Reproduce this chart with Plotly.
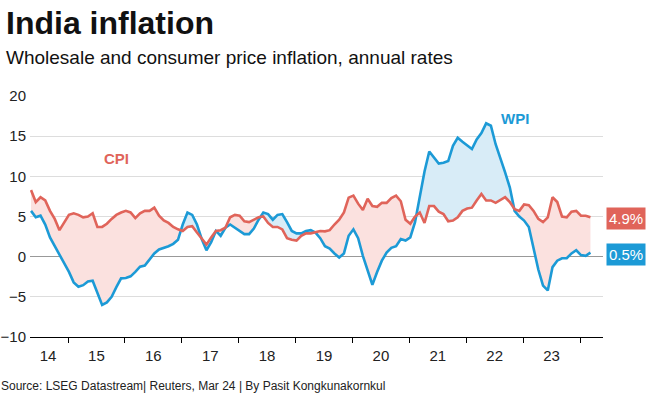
import plotly.graph_objects as go

# ---- data (monthly, May 2014 – Mar 2024) ----
start_year, start_month = 2014, 5

cpi = [
    8.3, 6.8, 7.4, 7.0, 5.7, 4.7, 3.3, 4.3,                         # 2014 May-Dec
    5.2, 5.4, 5.2, 4.9, 5.0, 5.4, 3.7, 3.7, 4.1, 4.7, 5.2, 5.5,     # 2015
    5.7, 5.5, 4.8, 5.4, 5.7, 5.7, 6.1, 5.1, 4.5, 4.2, 3.7, 3.4,     # 2016
    3.2, 3.7, 3.8, 3.0, 2.2, 1.5, 2.4, 3.2, 3.3, 3.6, 4.9, 5.2,     # 2017
    5.1, 4.4, 4.3, 4.6, 4.9, 5.0, 4.2, 3.7, 3.7, 3.4, 2.3, 2.1,     # 2018
    2.0, 2.6, 2.9, 2.9, 3.05, 3.2, 3.15, 3.3, 4.0, 4.6, 5.5, 7.35,  # 2019
    7.6, 6.6, 5.8, 7.2, 6.3, 6.2, 6.7, 6.7, 7.3, 7.6, 6.9, 4.6,     # 2020
    4.1, 5.0, 5.5, 4.2, 6.3, 6.3, 5.6, 5.3, 4.4, 4.5, 4.9, 5.7,     # 2021
    6.0, 6.1, 7.0, 7.8, 7.0, 7.0, 6.7, 7.0, 7.4, 6.8, 5.9, 5.7,     # 2022
    6.5, 6.4, 5.7, 4.7, 4.3, 4.9, 7.4, 6.8, 5.0, 4.9, 5.6, 5.7,     # 2023
    5.1, 5.1, 4.9,                                                  # 2024 Jan-Mar
]

wpi = [
    5.7, 4.9, 5.1, 4.0, 2.4, 1.3, 0.2, -0.8,                              # 2014 May-Dec
    -1.9, -3.2, -3.75, -3.55, -3.1, -3.0, -4.6, -6.0, -5.7, -5.0, -3.8, -2.7,  # 2015
    -2.65, -2.45, -1.9, -1.25, -1.1, -0.35, 0.4, 0.9, 1.1, 1.3, 1.6, 2.1,  # 2016
    4.0, 5.5, 5.2, 4.0, 2.2, 0.8, 1.8, 3.2, 2.6, 3.6, 4.0, 3.6,           # 2017
    3.1, 2.8, 2.8, 3.5, 4.6, 5.5, 5.3, 4.6, 5.2, 5.3, 4.3, 3.2,           # 2018
    2.9, 2.9, 3.2, 3.3, 3.0, 2.3, 1.3, 1.0, 0.4, -0.1, 0.4, 2.6,          # 2019
    3.4, 2.3, 0.1, -1.6, -3.5, -1.9, -0.5, 0.5, 1.1, 1.3, 2.2, 2.0,       # 2020
    2.4, 4.3, 7.6, 10.6, 13.1, 12.3, 11.6, 11.7, 11.9, 13.8, 14.8, 14.3,  # 2021
    13.9, 13.4, 14.6, 15.4, 16.6, 16.3, 14.0, 12.3, 10.5, 8.6, 5.7, 5.0,  # 2022
    4.5, 3.7, 1.0, -1.6, -3.6, -4.2, -1.3, -0.5, -0.2, -0.2, 0.4, 0.8,    # 2023
    0.2, 0.1, 0.5,                                                        # 2024 Jan-Mar
]

year_ticks = [2015, 2016, 2017, 2018, 2019, 2020, 2021, 2022, 2023, 2024]
label_pos = [2014.65, 2015.5, 2016.5, 2017.5, 2018.5, 2019.5, 2020.5, 2021.5, 2022.5, 2023.5]
label_text = ["14", "15", "16", "17", "18", "19", "20", "21", "22", "23"]
y_ticks = [-10, -5, 0, 5, 10, 15, 20]

cpi_last_label = "4.9%"
wpi_last_label = "0.5%"

# ---- styling ----
RED = "#e0645a"
BLUE = "#1c9ad6"
PINK_FILL = "#fbe1df"
BLUE_FILL = "#d8ecf7"
FONT = "Liberation Sans, Arial, sans-serif"
X_RANGE = [2014.332, 2024.404]

# x positions as decimal years
x = []
for i in range(len(cpi)):
    m = start_month - 1 + i
    yr = start_year + m // 12
    mo = m % 12 + 1
    x.append(yr + (mo - 0.8) / 12)

fig = go.Figure()

# ---- conditional fill between the two lines ----
runs = []
cur = {"x": [x[0]], "c": [cpi[0]], "w": [wpi[0]], "s": cpi[0] >= wpi[0]}
for i in range(len(x) - 1):
    d0 = cpi[i] - wpi[i]
    d1 = cpi[i + 1] - wpi[i + 1]
    if (d0 >= 0) != (d1 >= 0):
        t = d0 / (d0 - d1)
        xc = x[i] + (x[i + 1] - x[i]) * t
        yc = cpi[i] + (cpi[i + 1] - cpi[i]) * t
        cur["x"].append(xc); cur["c"].append(yc); cur["w"].append(yc)
        runs.append(cur)
        cur = {"x": [xc], "c": [yc], "w": [yc], "s": d1 >= 0}
    cur["x"].append(x[i + 1]); cur["c"].append(cpi[i + 1]); cur["w"].append(wpi[i + 1])
runs.append(cur)

for r in runs:
    fig.add_trace(go.Scatter(
        x=r["x"] + r["x"][::-1],
        y=r["c"] + r["w"][::-1],
        fill="toself",
        fillcolor=PINK_FILL if r["s"] else BLUE_FILL,
        line=dict(width=0),
        mode="lines",
        hoverinfo="skip",
        showlegend=False,
    ))

fig.add_trace(go.Scatter(x=x, y=wpi, mode="lines", line=dict(color=BLUE, width=2.6),
                         name="WPI", showlegend=False))
fig.add_trace(go.Scatter(x=x, y=cpi, mode="lines", line=dict(color=RED, width=2.6),
                         name="CPI", showlegend=False))
# invisible helper trace so the label axis (x2) is drawn
fig.add_trace(go.Scatter(x=[x[0]], y=[cpi[0]], xaxis="x2", mode="markers",
                         marker=dict(opacity=0), hoverinfo="skip", showlegend=False))

W, H = 654, 393
L, R, T, B = 30, 51, 96, 56
pw, ph = W - L - R, H - T - B


def px_to_paper_x(px):
    return (px - L) / pw


def px_to_paper_y(py):
    return (H - B - py) / ph


annotations = [
    dict(text="<b>India inflation</b>", xref="paper", yref="paper",
         x=px_to_paper_x(4), y=px_to_paper_y(22.5), xanchor="left", yanchor="middle",
         showarrow=False, font=dict(family=FONT, size=32, color="#111")),
    dict(text="Wholesale and consumer price inflation, annual rates", xref="paper", yref="paper",
         x=px_to_paper_x(4), y=px_to_paper_y(57.5), xanchor="left", yanchor="middle",
         showarrow=False, font=dict(family=FONT, size=19, color="#111")),
    dict(text="Source: LSEG Datastream| Reuters, Mar 24 | By Pasit Kongkunakornkul",
         xref="paper", yref="paper", x=px_to_paper_x(-1), y=px_to_paper_y(386),
         xanchor="left", yanchor="middle", showarrow=False,
         font=dict(family=FONT, size=12, color="#222")),
    dict(text="<b>CPI</b>", x=2015.86, y=12.2, xref="x", yref="y", showarrow=False,
         font=dict(family=FONT, size=15, color=RED)),
    dict(text="<b>WPI</b>", x=2022.86, y=17.25, xref="x", yref="y", showarrow=False,
         font=dict(family=FONT, size=15, color=BLUE)),
    dict(text=cpi_last_label, xref="paper", yref="y", x=px_to_paper_x(606), y=cpi[-1] - 0.2,
         xanchor="left", yanchor="middle", showarrow=False, bgcolor=RED, borderpad=2,
         font=dict(family=FONT, size=15, color="white")),
    dict(text=wpi_last_label, xref="paper", yref="y", x=px_to_paper_x(606), y=wpi[-1] - 0.25,
         xanchor="left", yanchor="middle", showarrow=False, bgcolor=BLUE, borderpad=2,
         font=dict(family=FONT, size=15, color="white")),
]

fig.update_layout(
    template="none",
    width=W, height=H,
    margin=dict(l=L, r=R, t=T, b=B, autoexpand=False),
    paper_bgcolor="white", plot_bgcolor="white",
    font=dict(family=FONT, size=15, color="#222"),
    annotations=annotations,
    showlegend=False,
    xaxis=dict(
        range=X_RANGE,
        automargin=False,
        tickmode="array", tickvals=year_ticks, ticktext=[""] * len(year_ticks),
        ticks="outside", ticklen=5, tickcolor="#000", tickwidth=1,
        showgrid=False, zeroline=False,
        showline=True, linecolor="#000", linewidth=1,
        fixedrange=True,
    ),
    xaxis2=dict(
        range=X_RANGE, overlaying="x", side="bottom", anchor="y",
        automargin=False,
        tickmode="array", tickvals=label_pos, ticktext=label_text,
        ticks="", showgrid=False, zeroline=False, showline=False,
        ticklabelstandoff=8,
        tickfont=dict(family=FONT, size=15, color="#222"),
        fixedrange=True,
    ),
    yaxis=dict(
        range=[-10, 20], tickmode="array", tickvals=y_ticks,
        automargin=False,
        showgrid=True, gridcolor="#dddddd", gridwidth=1,
        zeroline=True, zerolinecolor="#999999", zerolinewidth=1,
        showline=False, ticks="",
        ticklabelstandoff=3,
        tickfont=dict(family=FONT, size=15, color="#222"),
        fixedrange=True,
    ),
)

fig.write_html("out.html",
               config={"displayModeBar": False},
               post_script="document.body.style.margin='0';document.body.style.overflow='hidden';")
